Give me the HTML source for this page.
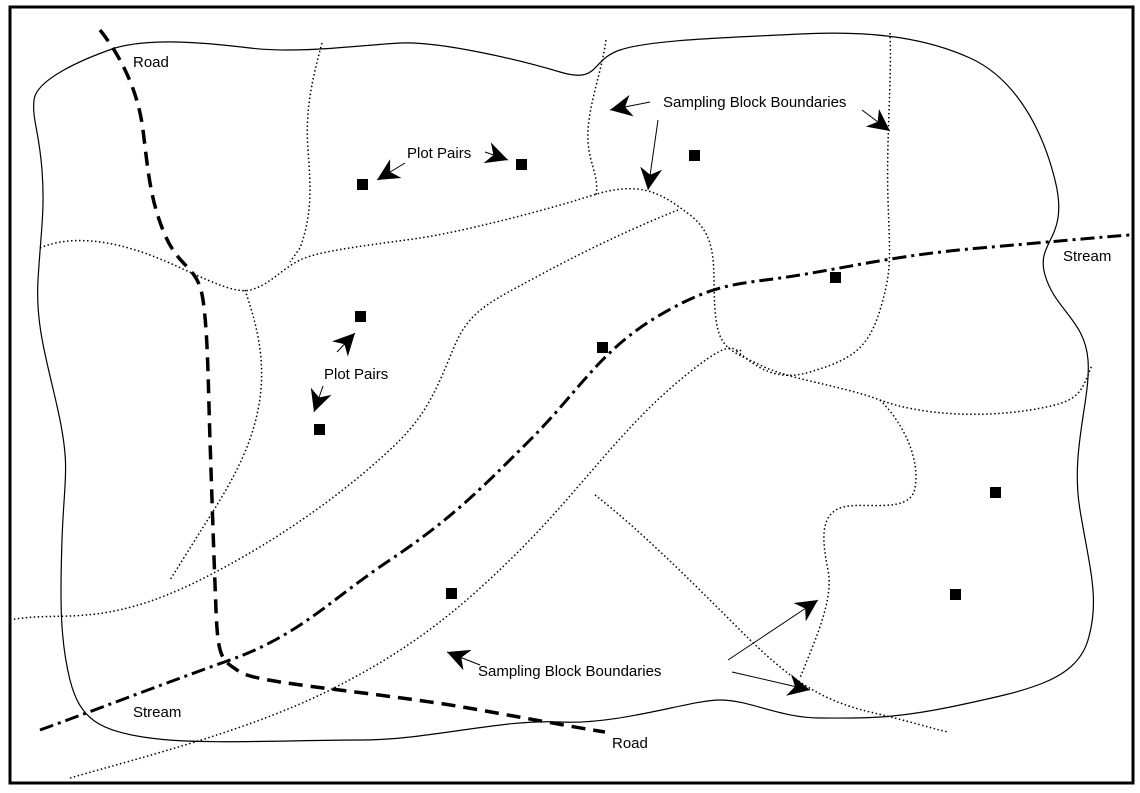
<!DOCTYPE html>
<html><head><meta charset="utf-8"><style>
html,body{margin:0;padding:0;background:#fff;width:1140px;height:793px;overflow:hidden}
text{font-family:"Liberation Sans",Arial,sans-serif;font-size:15px;fill:#000}
</style></head><body>
<svg width="1140" height="793" viewBox="0 0 1140 793" xmlns="http://www.w3.org/2000/svg">
<defs>
<marker id="a2" viewBox="0 0 10 10" refX="10" refY="5" markerWidth="22" markerHeight="22" orient="auto" markerUnits="userSpaceOnUse"><path d="M0,0 L10,5 L0,10 L3,5 z" fill="#000"/></marker>
</defs>
<rect x="10" y="7" width="1123" height="776" fill="none" stroke="#000" stroke-width="3"/>
<path d="M115,48 C150,38 200,42 250,48 S360,45 400,43 S520,60 560,72 S590,60 620,50 S720,38 800,34 S930,40 970,58 S1040,120 1055,180 S1035,240 1045,275 S1085,320 1088,360 S1070,450 1080,510 S1100,600 1088,640 S1030,690 960,705 S860,718 820,718 S750,700 720,700 S620,725 560,722 S430,740 360,740 S200,745 150,738 S80,720 70,680 S60,600 62,540 S70,470 60,420 S35,330 38,280 S45,210 42,170 S32,120 34,100 S80,60 115,48 Z" fill="none" stroke="#000" stroke-width="1.2"/>
<g fill="none" stroke="#000" stroke-width="1.5" stroke-dasharray="1.5 2.5">
<path d="M322,43 C312,80 305,110 308,150 S312,215 300,248 L290,262"/>
<path d="M606,40 C602,70 590,100 588,130 S600,175 596,195"/>
<path d="M40,248 C70,235 110,240 150,255 S230,295 250,290 S280,270 300,260 S380,244 420,238 S540,212 590,196 S660,192 690,215 S712,270 715,310 S730,350 760,365 S840,385 880,400 S980,418 1030,410 S1080,395 1092,365"/>
<path d="M245,290 C255,320 268,360 258,410 S220,500 195,540 L170,580"/>
<path d="M678,210 C640,225 590,248 540,275 S470,310 455,345 S430,410 400,440 S300,530 200,580 S60,610 10,620"/>
<path d="M890,33 C892,80 886,140 888,200 S892,270 880,310 S850,360 810,372 S750,360 735,350"/>
<path d="M70,778 C150,755 250,730 330,690 S460,610 520,550 S620,430 680,380 S730,355 742,350"/>
<path d="M595,495 C640,530 690,580 740,630 S820,700 870,712 S930,728 948,732"/>
<path d="M880,400 C905,425 920,460 915,488 S860,500 840,508 S822,540 828,570 S815,640 800,678"/>
</g>
<path d="M100,30 C120,55 138,90 143,130 S150,200 165,235 S198,265 203,300 S208,380 210,440 S214,560 216,610 S222,660 240,672 S380,692 480,710 S580,728 605,732" fill="none" stroke="#000" stroke-width="3.5" stroke-dasharray="14 8"/>
<path d="M40,730 C90,712 160,685 230,660 S330,600 390,560 S480,490 530,440 S600,350 660,315 S740,285 800,275 S900,255 980,248 S1090,238 1130,235" fill="none" stroke="#000" stroke-width="3" stroke-dasharray="14 5 3 5"/>
<g fill="#000">
<rect x="357" y="179" width="11" height="11"/><rect x="516" y="159" width="11" height="11"/><rect x="689" y="150" width="11" height="11"/>
<rect x="355" y="311" width="11" height="11"/><rect x="314" y="424" width="11" height="11"/><rect x="597" y="342" width="11" height="11"/>
<rect x="830" y="272" width="11" height="11"/><rect x="990" y="487" width="11" height="11"/><rect x="950" y="589" width="11" height="11"/>
<rect x="446" y="588" width="11" height="11"/>
</g>
<g stroke="#000" stroke-width="1" fill="none" marker-end="url(#a2)">
<path d="M650,102 L610,110"/>
<path d="M658,120 L648,190"/>
<path d="M862,110 L890,131"/>
<path d="M405,163 L377,180"/>
<path d="M485,152 L508,160"/>
<path d="M337,352 L355,333"/>
<path d="M323,386 L314,412"/>
<path d="M480,665 L447,652"/>
<path d="M728,660 L818,600"/>
<path d="M732,672 L810,690"/>
</g>
<text x="133" y="67">Road</text>
<text x="663" y="107">Sampling Block Boundaries</text>
<text x="407" y="158">Plot Pairs</text>
<text x="324" y="379">Plot Pairs</text>
<text x="1063" y="261">Stream</text>
<text x="133" y="717">Stream</text>
<text x="612" y="748">Road</text>
<text x="478" y="676">Sampling Block Boundaries</text>
</svg>
</body></html>
